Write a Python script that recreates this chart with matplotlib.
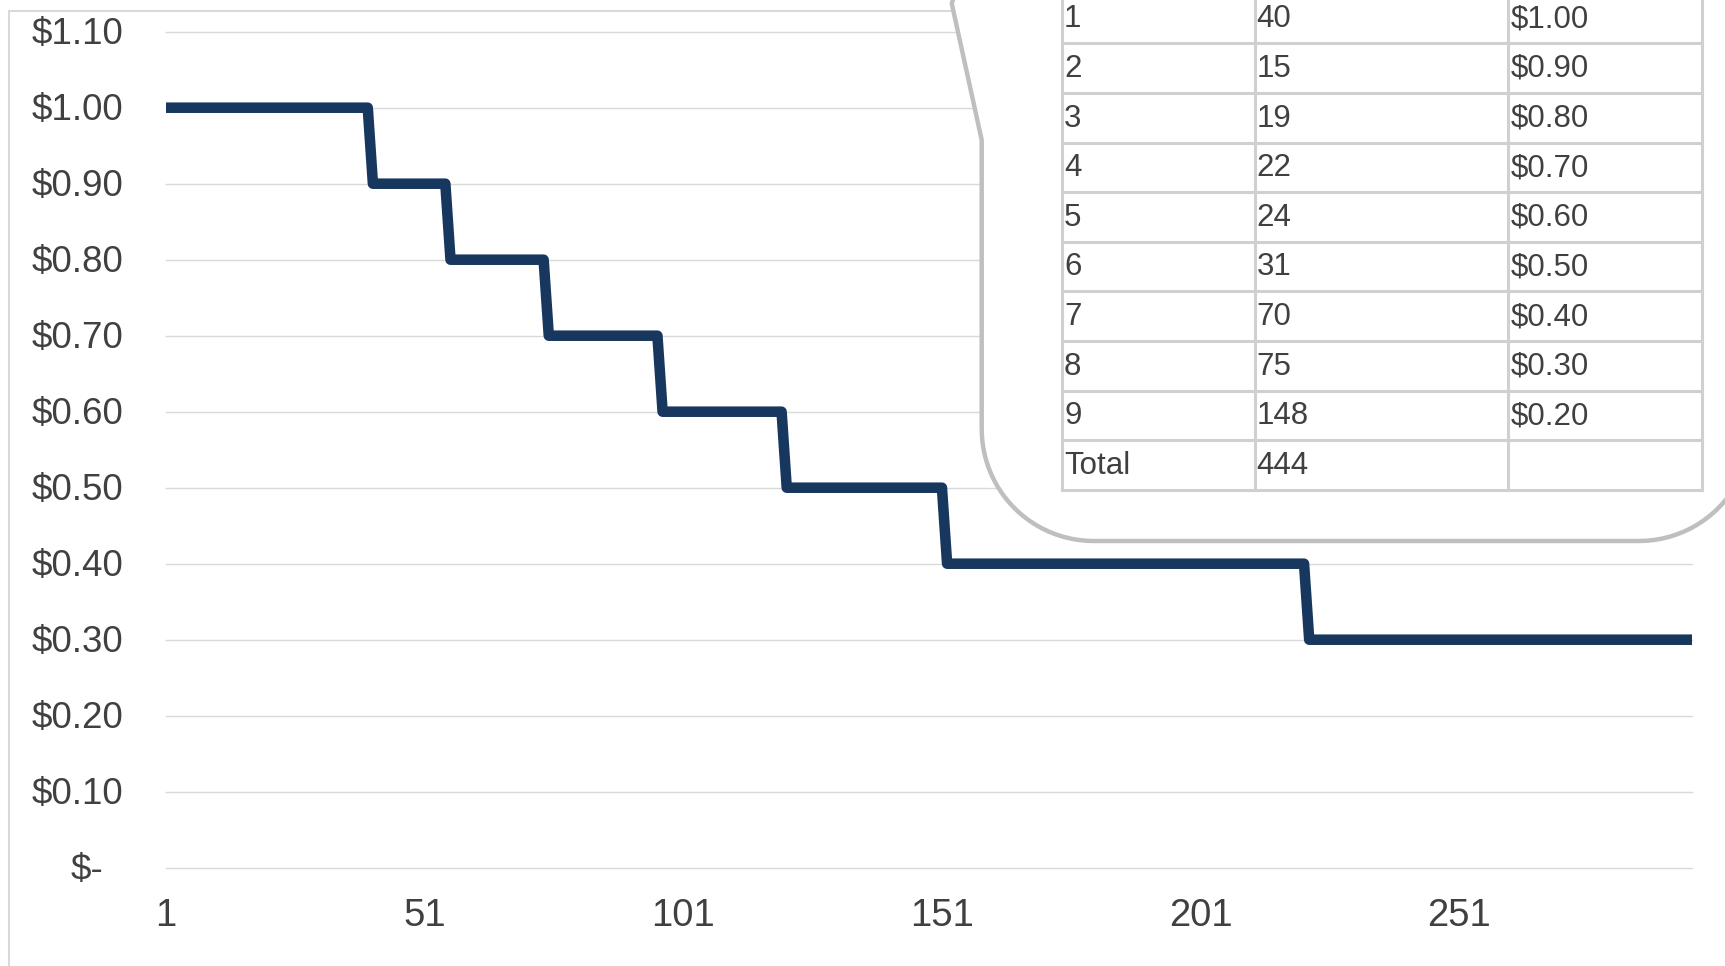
#!/usr/bin/env python3

# Tiered unit pricing: price per unit as volume grows, with the tier table
# shown in a callout box.

import numpy as np
import matplotlib
matplotlib.use("Agg")
from matplotlib import pyplot as plt
from matplotlib.path import Path
from matplotlib.patches import PathPatch, Rectangle
from matplotlib.lines import Line2D
import matplotlib.transforms as mtransforms

plt.rcParams['font.family'] = ['Liberation Sans', 'DejaVu Sans']

# pricing tiers
tiers = ["1", "2", "3", "4", "5", "6", "7", "8", "9"]
units = [40, 15, 19, 22, 24, 31, 70, 75, 148]
prices = [1.00, 0.90, 0.80, 0.70, 0.60, 0.50, 0.40, 0.30, 0.20]
tiers_on_axis = 8

x_ticks = [1, 51, 101, 151, 201, 251]
y_ticks = [0.0, 0.1, 0.2, 0.3, 0.4, 0.5, 0.6, 0.7, 0.8, 0.9, 1.0, 1.1]

W, H = 1725, 966          # output size in pixels (dpi 100)
TEXT = '#404040'
GRID = '#D9D9D9'
LINE = '#17375E'
BOX = '#BFBFBF'
CELL = '#D0D0D0'


def fxy(x, y):
    """pixel position (origin top left) -> figure fraction"""
    return x / W, 1 - y / H


# one point per unit sold, up to the end of the last tier on the axis
unit_price = np.repeat(prices, units)
unit_no = np.arange(1, len(unit_price) + 1)
n_shown = sum(units[:tiers_on_axis])

fig = plt.figure(figsize=(W / 100, H / 100), dpi=100)

# chart area border
fig.add_artist(Rectangle(fxy(9, 1100), 3.0, (1100 - 11) / H,
                         transform=fig.transFigure, fill=False,
                         edgecolor=GRID, lw=1.5, zorder=0))

ax = fig.add_axes([166 / W, 1 - 867.7 / H, 1526 / W, 836 / H])
ax.patch.set_alpha(0)
for s in ax.spines.values():
    s.set_visible(False)
ax.set_xlim(1, n_shown)
ax.set_ylim(0, 1.1)
ax.set_xticks([])
ax.set_yticks([])

for v in y_ticks:
    ax.axhline(v, color=GRID, lw=1.0, clip_on=False, zorder=1)

ax.plot(unit_no[:n_shown], unit_price[:n_shown], color=LINE, lw=7.6,
        solid_joinstyle='round', solid_capstyle='round', zorder=3)

# y labels, accounting style ("$-" for zero)
ylab_tr = mtransforms.offset_copy(ax.get_yaxis_transform(), fig=fig,
                                  x=0, y=-12.5, units='dots')
for v in y_ticks:
    if v == 0:
        lab, xpos = '$-', (103.5 - 166) / 1526
    else:
        lab, xpos = f'${v:.2f}', (123.5 - 166) / 1526
    ax.text(xpos, v, lab, transform=ylab_tr, ha='right', va='baseline',
            fontsize=26.5, color=TEXT)

# x labels
xlab_tr = mtransforms.offset_copy(ax.get_xaxis_transform(), fig=fig,
                                  x=0, y=-58, units='dots')
for v in x_ticks:
    ax.text(v, 0, str(v), transform=xlab_tr, ha='center', va='baseline',
            fontsize=27.5, color=TEXT)

# rounded callout with its pointer
r = 112
left, bottom, right = 981.7, 541.0, 1751.0
verts = [(975, -60), (951.7, 3.3), (981.7, 140), (left, bottom - r)]
for a in np.linspace(np.pi, np.pi / 2, 24)[1:]:
    verts.append((left + r + r * np.cos(a), bottom - r + r * np.sin(a)))
for a in np.linspace(np.pi / 2, 0, 24):
    verts.append((right - r + r * np.cos(a), bottom - r + r * np.sin(a)))
verts += [(right, -100), (975, -60)]
codes = [Path.MOVETO] + [Path.LINETO] * (len(verts) - 2) + [Path.CLOSEPOLY]
callout = PathPatch(Path([fxy(*p) for p in verts], codes),
                    transform=fig.transFigure, facecolor='white',
                    edgecolor=BOX, lw=3.2, joinstyle='round', zorder=5)
fig.add_artist(callout)

# tier table inside the callout
col_x = [1062, 1254.5, 1508.3, 1702]
row_h = 49.63
first_line = 43.3
n_rows = len(tiers) + 1
row_lines = [first_line + row_h * k for k in range(-1, n_rows)]

for y in row_lines:
    x0, y0 = fxy(col_x[0], y)
    x1, _ = fxy(col_x[-1], y)
    fig.add_artist(Line2D([x0, x1], [y0, y0], transform=fig.transFigure,
                          color=CELL, lw=2.2, zorder=6))
for x in col_x:
    x0, y0 = fxy(x, -60)
    _, y1 = fxy(x, row_lines[-1])
    fig.add_artist(Line2D([x0, x0], [y0, y1], transform=fig.transFigure,
                          color=CELL, lw=2.2, solid_capstyle='projecting',
                          zorder=6))

rows = [(t, str(u), f'${p:.2f}') for t, u, p in zip(tiers, units, prices)]
rows.append(('Total', str(sum(units)), ''))
for k, row in enumerate(rows):
    base = first_line + row_h * k - 16
    for c, txt in enumerate(row):
        fig.text(*fxy(col_x[c] + 2, base), txt, ha='left', va='baseline',
                 fontsize=22.5, color=TEXT, zorder=7)

fig.savefig('out.png', dpi=100)
